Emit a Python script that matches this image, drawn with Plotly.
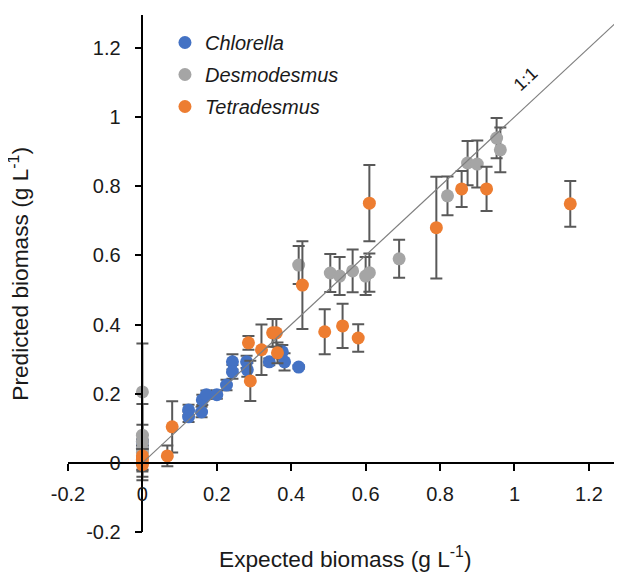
import plotly.graph_objects as go

# ---- data ----
chl_x = [0.0, 0.0, 0.124, 0.124, 0.159, 0.161, 0.172, 0.200, 0.226, 0.242, 0.242, 0.280, 0.282, 0.341, 0.376, 0.382, 0.420]
chl_y = [0.060, 0.040, 0.153, 0.133, 0.147, 0.182, 0.197, 0.197, 0.225, 0.292, 0.263, 0.292, 0.269, 0.292, 0.321, 0.292, 0.277]
chl_e = [0.010, 0.010, 0.015, 0.015, 0.015, 0.015, 0.012, 0.012, 0.015, 0.022, 0.020, 0.018, 0.020, 0.010, 0.020, 0.025, 0.005]

des_x = [0.0, 0.0, 0.0, 0.0, 0.0, 0.420, 0.505, 0.530, 0.565, 0.600, 0.610, 0.690, 0.820, 0.874, 0.900, 0.952, 0.962]
des_y = [0.205, 0.080, 0.060, 0.040, 0.030, 0.572, 0.549, 0.540, 0.555, 0.540, 0.550, 0.590, 0.772, 0.867, 0.864, 0.939, 0.905]
des_e = [0.140, 0.030, 0.110, 0.020, 0.050, 0.055, 0.055, 0.055, 0.062, 0.055, 0.055, 0.055, 0.056, 0.064, 0.068, 0.058, 0.065]

tet_x = [0.0, 0.0, 0.0, 0.0, 0.067, 0.080, 0.285, 0.290, 0.320, 0.350, 0.360, 0.363, 0.430, 0.490, 0.538, 0.580, 0.610, 0.790, 0.858, 0.925, 1.150]
tet_y = [0.020, 0.010, 0.000, -0.005, 0.020, 0.104, 0.347, 0.237, 0.327, 0.376, 0.376, 0.318, 0.514, 0.379, 0.396, 0.361, 0.751, 0.680, 0.792, 0.792, 0.749]
tet_e = [0.020, 0.030, 0.040, 0.020, 0.030, 0.074, 0.020, 0.058, 0.073, 0.040, 0.040, 0.030, 0.127, 0.065, 0.064, 0.040, 0.110, 0.147, 0.052, 0.064, 0.066]

line_x = [0.0, 1.35]
line_y = [0.0, 1.35]

tick_vals = [-0.2, 0, 0.2, 0.4, 0.6, 0.8, 1.0, 1.2]
tick_text = ["-0.2", "0", "0.2", "0.4", "0.6", "0.8", "1", "1.2"]

series = [
    ("Chlorella", chl_x, chl_y, chl_e, "#4472C4"),
    ("Desmodesmus", des_x, des_y, des_e, "#A5A5A5"),
    ("Tetradesmus", tet_x, tet_y, tet_e, "#ED7D31"),
]

FONT = "Liberation Sans, Arial, Helvetica, sans-serif"
TXT = "#1a1a1a"

fig = go.Figure()
for name, xs, ys, es, col in series:
    fig.add_trace(go.Scatter(
        x=xs, y=ys, mode="markers", name=name,
        legendgroup=name,
        marker=dict(color=col, size=13, line=dict(width=0)),
        error_y=dict(type="data", array=es, symmetric=True,
                     color="#595959", thickness=2, width=6),
    ))

fig.add_trace(go.Scatter(
    x=line_x, y=line_y, mode="lines", showlegend=False,
    line=dict(color="#7F7F7F", width=1.2), hoverinfo="skip",
))

xr = [-0.2, 1.289]
yr = [-0.2, 1.295]

fig.update_layout(
    width=614, height=567,
    margin=dict(l=60, r=0, t=7, b=43),
    paper_bgcolor="white", plot_bgcolor="white",
    font=dict(family=FONT, size=20, color=TXT),
    showlegend=True,
    legend=dict(
        x=0.175, y=0.9845, xanchor="left", yanchor="top",
        font=dict(family=FONT, size=20, style="italic", color=TXT),
        bgcolor="rgba(0,0,0,0)", tracegroupgap=3, itemwidth=30,
    ),
    xaxis=dict(
        range=xr, anchor="free", position=0.2 / (yr[1] - yr[0]),
        tickvals=tick_vals, ticktext=tick_text,
        showline=True, linecolor="black", linewidth=1.5,
        ticks="outside", ticklen=7, tickwidth=1.5, tickcolor="black",
        showgrid=False, zeroline=False, ticklabelstandoff=6,
        tickfont=dict(family=FONT, size=20, color=TXT),
    ),
    yaxis=dict(
        range=yr, anchor="free", position=0.2 / (xr[1] - xr[0]),
        tickvals=tick_vals, ticktext=tick_text,
        showline=True, linecolor="black", linewidth=1.5,
        ticks="outside", ticklen=7, tickwidth=1.5, tickcolor="black",
        showgrid=False, zeroline=False, ticklabelstandoff=10,
        tickfont=dict(family=FONT, size=20, color=TXT),
    ),
    annotations=[
        dict(text="Expected biomass (g L<sup>-1</sup>)", xref="paper", yref="paper",
             x=0.5, y=-0.05, xanchor="center", yanchor="middle", showarrow=False,
             font=dict(family=FONT, size=22.7, color=TXT)),
        dict(text="Predicted biomass (g L<sup>-1</sup>)", xref="paper", yref="paper",
             x=-0.088, y=0.5, xanchor="center", yanchor="middle", showarrow=False,
             textangle=-90, font=dict(family=FONT, size=22.7, color=TXT)),
        dict(text="1:1", x=1.03, y=1.11, xref="x", yref="y", showarrow=False,
             textangle=-43, font=dict(family=FONT, size=18, color=TXT)),
    ],
)

fig.write_html("out.html")
